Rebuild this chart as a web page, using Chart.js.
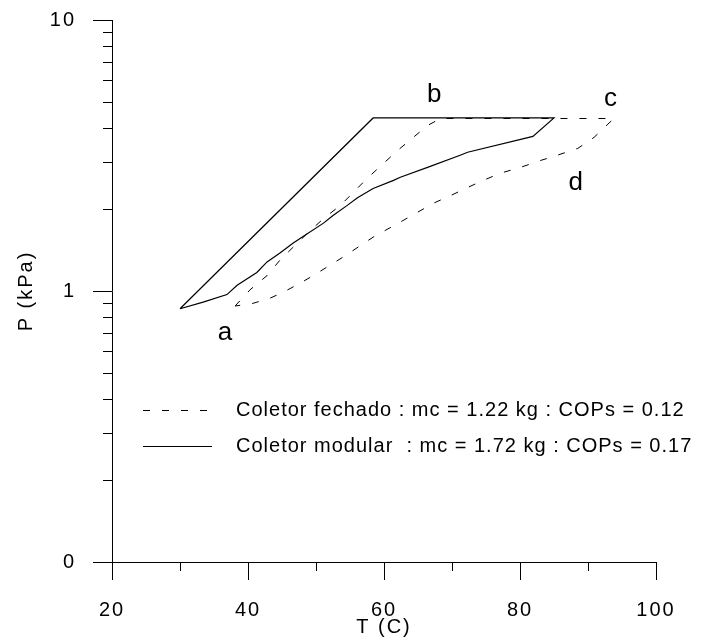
<!DOCTYPE html>
<html>
<head>
<meta charset="utf-8">
<script src="https://cdn.jsdelivr.net/npm/chart.js@4/dist/chart.umd.min.js"></script>
<style>
  html, body { margin: 0; padding: 0; background: #fff; }
  canvas { display: block; }
</style>
</head>
<body>
<canvas id="cycleChart" width="703" height="641"></canvas>
<script>
'use strict';

/* ----- dados (T em C, P em kPa) ----- */
// Coletor fechado: a -> b -> c -> d -> a
const fechadoT = [38.1, 40.3, 42.8, 44.7, 48.7, 51.1, 53.6, 57.5, 62.0, 66.4, 68.3,
                  93.8, 90.9, 88.5, 85.5, 83.0, 80.1, 77.1, 74.6, 72.3, 69.8, 67.3,
                  64.9, 62.8, 58.4, 53.9, 49.6, 47.7, 45.2, 43.2, 40.7, 38.1];
const fechadoP = [0.88, 1.01, 1.14, 1.30, 1.63, 1.85, 2.07, 2.60, 3.30, 4.08, 4.33,
                  4.33, 3.69, 3.36, 3.17, 3.03, 2.86, 2.72, 2.56, 2.41, 2.25, 2.11,
                  1.95, 1.82, 1.58, 1.33, 1.14, 1.07, 0.99, 0.94, 0.90, 0.88];

// Coletor modular
const modularT = [30.0, 58.4, 85.0, 81.9, 72.3, 71.2, 66.4, 62.4, 61.4, 58.4, 56.1,
                  54.6, 52.5, 51.1, 48.1, 46.6, 44.7, 42.8, 41.3, 38.4, 36.9, 33.4, 30.0];
const modularP = [0.86, 4.35, 4.35, 3.72, 3.25, 3.17, 2.86, 2.63, 2.56, 2.39, 2.21,
                  2.07, 1.90, 1.78, 1.59, 1.50, 1.38, 1.28, 1.17, 1.05, 0.97, 0.91, 0.86];

const seriesLabels = [
  'Coletor fechado : mc = 1.22 kg : COPs = 0.12',
  'Coletor modular  : mc = 1.72 kg : COPs = 0.17'
];

const xTicks = [20, 40, 60, 80, 100];
const xMinorTicks = [30, 50, 70, 90];
const yTicks = [0.1, 1, 10];
const yTickText = ['0', '1', '10'];
const yMinorTicks = [0.2, 0.3, 0.4, 0.5, 0.6, 0.7, 0.8, 0.9, 2, 3, 4, 5, 6, 7, 8, 9];

// rótulos dos estados a, b, c, d
const stateNames = ['a', 'b', 'c', 'd'];
const stateT = [36.6, 67.4, 93.3, 88.2];
const stateP = [0.66, 4.97, 4.80, 2.35];

// ----- fonte -----
Chart.defaults.font.family = "'Liberation Sans', Arial, sans-serif";
Chart.defaults.font.size = 20;
Chart.defaults.color = '#000';

const toPoints = (ts, ps) => ts.map((t, i) => ({ x: t, y: ps[i] }));

/* ----------------------------------------------------------
   espaçamento de letras (estilo Grapher)
   ---------------------------------------------------------- */
const spacingPlugin = {
  id: 'spacing',
  beforeDraw(chart) {
    chart.ctx.letterSpacing = '2px';
  }
};

/* ----------------------------------------------------------
   ticks, legenda e rótulos a-d
   ---------------------------------------------------------- */
const extrasPlugin = {
  id: 'extras',
  afterDraw(chart) {
    const { ctx, scales: { x, y } } = chart;
    const base = y.getPixelForValue(0.1);
    const axisX = x.getPixelForValue(20);
    ctx.save();
    ctx.strokeStyle = '#000';
    ctx.lineWidth = 1;

    // eixo x: ticks para baixo
    const tickX = (v, len) => {
      const px = Math.round(x.getPixelForValue(v)) + 0.5;
      ctx.beginPath();
      ctx.moveTo(px, base);
      ctx.lineTo(px, base + len);
      ctx.stroke();
    };
    xTicks.forEach(v => tickX(v, 18));
    xMinorTicks.forEach(v => tickX(v, 9));

    // eixo y: ticks para a esquerda
    const tickY = (v, len) => {
      const py = Math.round(y.getPixelForValue(v)) + 0.5;
      ctx.beginPath();
      ctx.moveTo(axisX, py);
      ctx.lineTo(axisX - len, py);
      ctx.stroke();
    };
    yTicks.forEach(v => tickY(v, 19));
    yMinorTicks.forEach(v => tickY(v, 9));

    // legenda
    const rows = [410, 446];
    const sampleEnd = [207, 212];
    chart.data.datasets.forEach((ds, i) => {
      ctx.setLineDash(ds.borderDash || []);
      ctx.beginPath();
      ctx.moveTo(143, rows[i] + 0.5);
      ctx.lineTo(sampleEnd[i], rows[i] + 0.5);
      ctx.stroke();
    });
    ctx.setLineDash([]);
    ctx.fillStyle = '#000';
    ctx.font = "20px 'Liberation Sans', Arial, sans-serif";
    ctx.letterSpacing = '1px';
    ctx.textAlign = 'left';
    ctx.textBaseline = 'middle';
    seriesLabels.forEach((txt, i) => ctx.fillText(txt, 236, rows[i]));

    // a, b, c, d
    ctx.font = "26px 'Liberation Sans', Arial, sans-serif";
    ctx.letterSpacing = '0px';
    ctx.textAlign = 'center';
    ctx.textBaseline = 'alphabetic';
    stateNames.forEach((n, i) => {
      ctx.fillText(n, x.getPixelForValue(stateT[i]), y.getPixelForValue(stateP[i]));
    });
    ctx.restore();
  }
};

new Chart(document.getElementById('cycleChart'), {
  type: 'scatter',
  data: {
    datasets: [
      {
        label: seriesLabels[0],
        data: toPoints(fechadoT, fechadoP),
        showLine: true,
        borderColor: '#000',
        borderWidth: 1,
        borderDash: [7, 12],
        pointRadius: 0,
        tension: 0,
        fill: false
      },
      {
        label: seriesLabels[1],
        data: toPoints(modularT, modularP),
        showLine: true,
        borderColor: '#000',
        borderWidth: 1.2,
        pointRadius: 0,
        tension: 0,
        fill: false
      }
    ]
  },
  options: {
    responsive: false,
    animation: false,
    layout: { padding: { top: 0, right: 47, left: 0, bottom: 0 } },
    plugins: {
      legend: { display: false },
      tooltip: { enabled: false }
    },
    scales: {
      x: {
        type: 'linear',
        min: 20,
        max: 100,
        afterFit: s => { s.height = 79; s.paddingLeft = 0; s.paddingRight = 0; },
        afterBuildTicks: s => { s.ticks = xTicks.map(v => ({ value: v })); },
        grid: { display: false },
        border: { display: true, color: '#000', width: 1 },
        ticks: { autoSkip: false, maxRotation: 0, padding: 28, callback: v => String(v) },
        title: { display: true, text: 'T (C)', padding: { top: 0, bottom: 2 } }
      },
      y: {
        type: 'logarithmic',
        min: 0.1,
        max: 10,
        afterFit: s => { s.width = 112; s.paddingTop = 20; s.paddingBottom = 0; },
        afterBuildTicks: s => { s.ticks = yTicks.map(v => ({ value: v })); },
        grid: { display: false },
        border: { display: true, color: '#000', width: 1 },
        ticks: { autoSkip: false, padding: 28, callback: (v, i) => yTickText[i] },
        title: { display: true, text: 'P (kPa)', padding: { top: 14, bottom: 0 } }
      }
    }
  },
  plugins: [spacingPlugin, extrasPlugin]
});
</script>
</body>
</html>
